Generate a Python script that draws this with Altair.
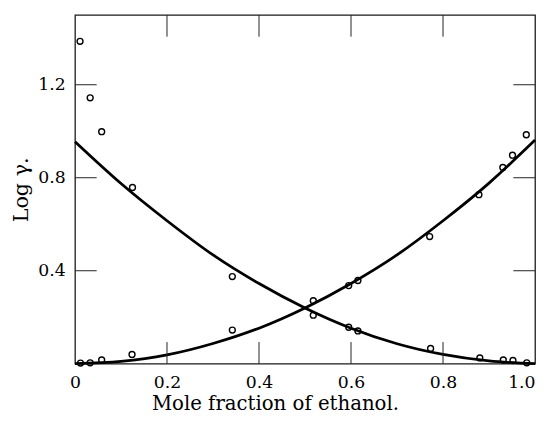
import altair as alt
import pandas as pd

# measured points (x = mole fraction of ethanol)
water_x = [0.011, 0.033, 0.058, 0.125, 0.342, 0.518, 0.595, 0.615, 0.773, 0.880, 0.931, 0.952, 0.982]
water_y = [1.387, 1.144, 0.998, 0.758, 0.375, 0.209, 0.157, 0.141, 0.066, 0.025, 0.016, 0.014, 0.004]
eth_x = [0.012, 0.033, 0.058, 0.124, 0.342, 0.518, 0.595, 0.615, 0.771, 0.878, 0.930, 0.951, 0.981]
eth_y = [0.003, 0.004, 0.016, 0.040, 0.145, 0.271, 0.336, 0.358, 0.547, 0.727, 0.844, 0.897, 0.985]

# smooth curves
curve_x = [0.0, 0.1, 0.2, 0.3, 0.4, 0.5, 0.6, 0.7, 0.8, 0.9, 1.0]
curve_water = [0.955, 0.775, 0.615, 0.468, 0.345, 0.240, 0.153, 0.086, 0.040, 0.012, 0.0]
curve_eth = [0.0, 0.010, 0.038, 0.087, 0.153, 0.240, 0.345, 0.468, 0.615, 0.777, 0.962]

x_labels = [0.0, 0.2, 0.4, 0.6, 0.8, 1.0]
x_ticks = [0.2, 0.4, 0.6, 0.8]
y_ticks = [0.4, 0.8, 1.2]

W, H = 467, 354
TICK = 22

pts = pd.DataFrame({
    "x": water_x + eth_x,
    "y": water_y + eth_y,
    "s": ["water"] * len(water_x) + ["ethanol"] * len(eth_x),
})
curves = pd.DataFrame({
    "x": curve_x + curve_x,
    "y": curve_water + curve_eth,
    "s": ["water"] * len(curve_x) + ["ethanol"] * len(curve_x),
})
xt = pd.DataFrame({"x": x_ticks})
yt = pd.DataFrame({"y": y_ticks})

xs = alt.Scale(domain=[0, 1.0], nice=False, zero=False)
ys = alt.Scale(domain=[0, 1.5], nice=False, zero=False)

x_axis = alt.Axis(
    values=x_labels,
    labelExpr="datum.value == 0 ? '0' : format(datum.value, '.1f')",
    labelAlign={"condition": {"test": "datum.value >= 1", "value": "right"}, "value": "center"},
    grid=False, ticks=False, domain=False,
    labelPadding=10, labelFontSize=17.5,
    title="Mole fraction of ethanol.", titleFontSize=20,
    titleX=203, titleY=40, titleAlign="center", titleBaseline="middle",
)
y_axis = alt.Axis(
    values=y_ticks, format=".1f",
    grid=False, ticks=False, domain=False,
    labelPadding=10, labelFontSize=17.5, labelBaseline="middle",
    title="Log γ.", titleFontSize=21, titleAngle=270,
    titleX=-54, titleY=177, titleAlign="center", titleBaseline="middle",
)

X = lambda f: alt.X(f, type="quantitative", scale=xs, axis=x_axis)
Y = lambda f: alt.Y(f, type="quantitative", scale=ys, axis=y_axis)

lines = alt.Chart(curves).mark_line(color="black", strokeWidth=2.8, interpolate="monotone").encode(
    x=X("x"), y=Y("y"), detail="s:N"
)
points = alt.Chart(pts).mark_point(shape="circle", filled=False, color="black", size=36,
                                   strokeWidth=1.4, opacity=1).encode(
    x=X("x"), y=Y("y")
)
tick_style = dict(color="#222", strokeWidth=1)
bottom_ticks = alt.Chart(xt).mark_rule(**tick_style).encode(
    x=X("x"), y=alt.value(H), y2=alt.value(H - TICK)
)
top_ticks = alt.Chart(xt).mark_rule(**tick_style).encode(
    x=X("x"), y=alt.value(0), y2=alt.value(TICK)
)
left_ticks = alt.Chart(yt).mark_rule(**tick_style).encode(
    y=Y("y"), x=alt.value(0), x2=alt.value(TICK)
)
right_ticks = alt.Chart(yt).mark_rule(**tick_style).encode(
    y=Y("y"), x=alt.value(W), x2=alt.value(W - TICK)
)

chart = alt.layer(lines, points, bottom_ticks, top_ticks, left_ticks, right_ticks).properties(
    width=W, height=H,
    autosize=alt.AutoSizeParams(type="none"),
    padding={"left": 68, "top": 4, "right": 2, "bottom": 54},
).configure_view(
    stroke="#1a1a1a", strokeWidth=1.3
).configure_axis(
    labelFont="DejaVu Serif", titleFont="DejaVu Serif",
    labelColor="#000", titleColor="#000", titleFontWeight="normal",
)

chart.save("out.html", embed_options={"renderer": "svg", "actions": False})
